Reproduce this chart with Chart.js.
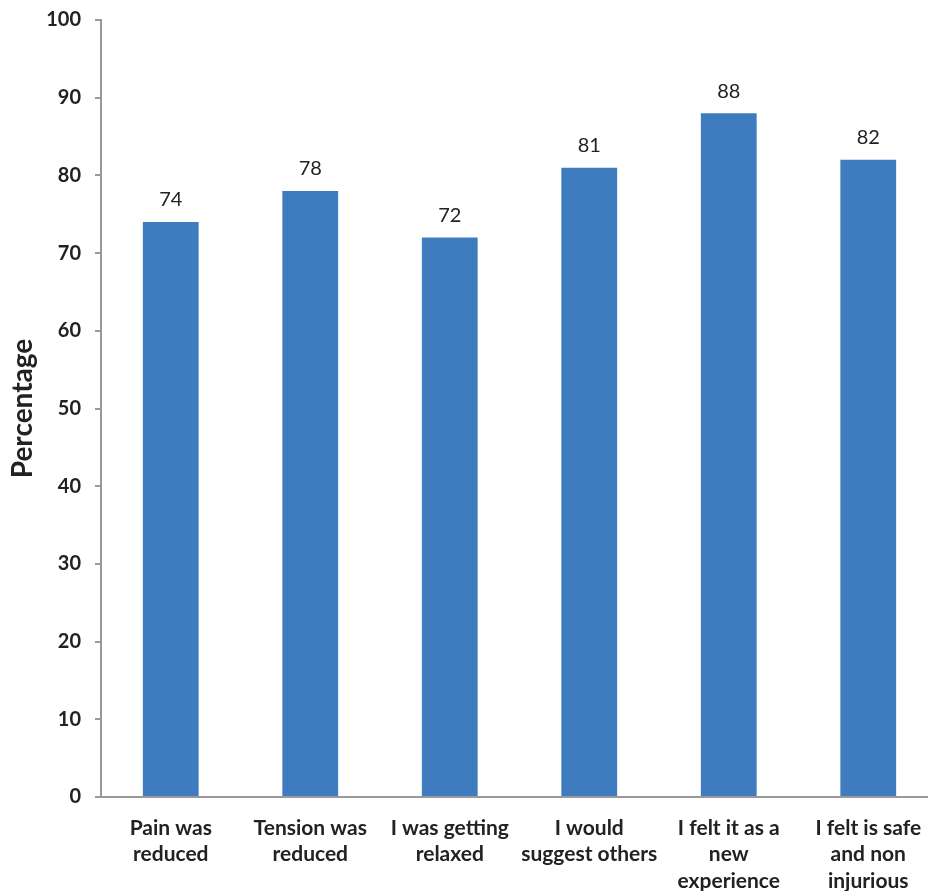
<!DOCTYPE html>
<html lang="en">
<head>
    <meta charset="UTF-8">
    <title>Percentage chart</title>
    <script src="https://cdn.jsdelivr.net/npm/chart.js"></script>
</head>
<body>
    <style>
        html, body { margin: 0; padding: 0; overflow: hidden; background: #fff; }
        div { width: 938px; height: 891px; }
    </style>
    <div>
        <canvas id="myChart"></canvas>
    </div>

    <script>
        // data
        const categories = [
            ['Pain was', 'reduced'],
            ['Tension was', 'reduced'],
            ['I was getting', 'relaxed'],
            ['I would', 'suggest others'],
            ['I felt it as a', 'new', 'experience'],
            ['I felt is safe', 'and non', 'injurious']
        ];
        const values = [74, 78, 72, 81, 88, 82];
        const yTicks = [0, 10, 20, 30, 40, 50, 60, 70, 80, 90, 100];

        // draws the value above each bar
        const valueLabels = {
            id: 'valueLabels',
            afterDatasetsDraw(chart) {
                const ctx = chart.ctx;
                const meta = chart.getDatasetMeta(0);
                ctx.save();
                ctx.font = '20px Lato';
                ctx.fillStyle = '#222';
                ctx.textAlign = 'center';
                ctx.textBaseline = 'middle';
                meta.data.forEach((bar, i) => {
                    ctx.fillText(values[i], bar.x, bar.y - 22);
                });
                ctx.restore();
            }
        };

        const config = {
            type: 'bar',
            data: {
                labels: categories,
                datasets: [{
                    data: values,
                    backgroundColor: '#3F7CBF',
                    categoryPercentage: 1,
                    barPercentage: 0.4
                }]
            },
            plugins: [valueLabels],
            options: {
                responsive: true,
                maintainAspectRatio: false,
                animation: false,
                layout: { padding: { top: 20, right: 0, left: 0, bottom: 0 } },
                plugins: {
                    legend: { display: false },
                    tooltip: { enabled: false }
                },
                scales: {
                    x: {
                        grid: { display: false },
                        border: { color: '#999', width: 2 },
                        ticks: {
                            color: '#222',
                            font: { family: 'Lato', size: 21, weight: 'bold', lineHeight: 1.26 },
                            padding: 10,
                            maxRotation: 0,
                            autoSkip: false
                        },
                        afterFit: s => { s.height = 94; }
                    },
                    y: {
                        min: 0,
                        max: 100,
                        afterBuildTicks: s => { s.ticks = yTicks.map(v => ({ value: v })); },
                        grid: { drawOnChartArea: false, tickLength: 6, color: '#999', lineWidth: 2 },
                        border: { color: '#999', width: 2 },
                        ticks: {
                            color: '#222',
                            // small lineHeight keeps the top padding tight
                            font: { family: 'Lato', size: 20, weight: 'bold', lineHeight: 0.5 },
                            padding: 14
                        },
                        title: {
                            display: true,
                            text: 'Percentage',
                            color: '#222',
                            font: { family: 'Lato', size: 28, weight: 'bold' },
                            padding: { top: 6, bottom: 0 }
                        },
                        afterFit: s => { s.width = 101; }
                    }
                }
            }
        };

        const ctx = document.getElementById('myChart').getContext('2d');
        const myChart = new Chart(ctx, config);
    </script>
</body>
</html>
